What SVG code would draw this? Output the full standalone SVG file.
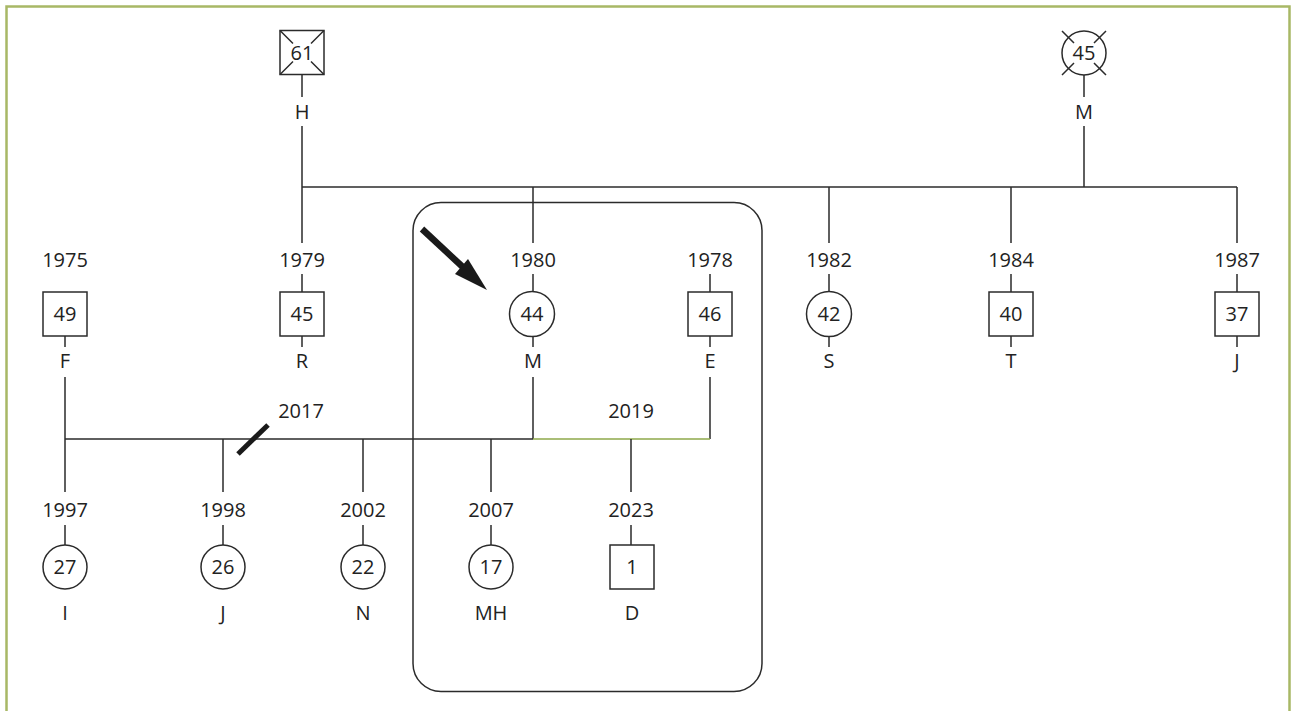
<svg xmlns="http://www.w3.org/2000/svg" width="1292" height="711" viewBox="0 0 1292 711">
<style>
  .ln{stroke:#2b2b2b;stroke-width:1.5;fill:none}
  .nd{stroke:#2b2b2b;stroke-width:1.5;fill:#fff}
  .t{font-family:"Open Sans","Noto Sans",sans-serif;font-size:20px;fill:#222;text-anchor:middle}
</style>
<rect width="1292" height="711" fill="#fff"/>
<path d="M6.5 711 V6.5 H1289.5 V711" fill="none" stroke="#a8b866" stroke-width="2.5"/>

<g id="connectors">
  <path class="ln" d="M302 75 V97 M302 126 V187 M1084 75 V97 M1084 126 V187"/>
  <path class="ln" d="M302 187 H1237"/>
  <path class="ln" d="M302 187 V243 M533 187 V243 M829 187 V243 M1011 187 V243 M1237 187 V243"/>
  <path class="ln" d="M302 274 V292 M533 274 V292 M710 274 V292 M829 274 V292 M1011 274 V292 M1237 274 V292"/>
  <path class="ln" d="M65 336 V347 M302 336 V347 M533 336 V347 M710 336 V347 M829 336 V347 M1011 336 V347 M1237 336 V347"/>
  <path class="ln" d="M65 377 V439 M533 377 V439 M710 377 V439 M65 439 H533"/>
  <path d="M533 439 H710" stroke="#8ea84a" stroke-width="1.5" fill="none"/>
  <path class="ln" d="M65 439 V492 M223 439 V492 M363 439 V492 M491 439 V492 M631 439 V492"/>
  <path class="ln" d="M65 525 V545 M223 525 V545 M363 525 V545 M491 525 V545 M631 525 V545"/>
  <path d="M238 454 L268 425" stroke="#1a1a1a" stroke-width="5" fill="none"/>
  <path d="M422 229 L466 270" stroke="#1a1a1a" stroke-width="6.5" fill="none"/>
  <polygon points="487,290 455,274 468,259" fill="#1a1a1a"/>
</g>

<g id="focus-box"><rect x="413" y="202.5" width="349" height="489" rx="28" ry="28" class="ln"/></g>

<g id="node-H">
  <rect class="nd" x="280" y="30.5" width="44" height="44"/>
  <path class="ln" d="M280 30.5 l13 13 M324 30.5 l-13 13 M280 74.5 l13 -13 M324 74.5 l-13 -13"/>
  <text class="t" x="302" y="60">61</text>
  <text class="t" x="302" y="119">H</text>
</g>
<g id="node-Mgm">
  <circle class="nd" cx="1084" cy="53" r="22"/>
  <path class="ln" d="M1062 31 l12 12 M1106 31 l-12 12 M1062 75 l12 -12 M1106 75 l-12 -12"/>
  <text class="t" x="1084" y="60">45</text>
  <text class="t" x="1084" y="119">M</text>
</g>

<g id="node-F">
  <text class="t" x="65" y="267">1975</text>
  <rect class="nd" x="43" y="292" width="44" height="44"/>
  <text class="t" x="65" y="321">49</text>
  <text class="t" x="65" y="368">F</text>
</g>
<g id="node-R">
  <text class="t" x="302" y="267">1979</text>
  <rect class="nd" x="280" y="292" width="44" height="44"/>
  <text class="t" x="302" y="321">45</text>
  <text class="t" x="302" y="368">R</text>
</g>
<g id="node-M">
  <text class="t" x="533" y="267">1980</text>
  <circle class="nd" cx="532" cy="314" r="22.5"/>
  <text class="t" x="532" y="321">44</text>
  <text class="t" x="533" y="368">M</text>
</g>
<g id="node-E">
  <text class="t" x="710" y="267">1978</text>
  <rect class="nd" x="688" y="292" width="44" height="44"/>
  <text class="t" x="710" y="321">46</text>
  <text class="t" x="710" y="368">E</text>
</g>
<g id="node-S">
  <text class="t" x="829" y="267">1982</text>
  <circle class="nd" cx="829" cy="314" r="22.5"/>
  <text class="t" x="829" y="321">42</text>
  <text class="t" x="829" y="368">S</text>
</g>
<g id="node-T">
  <text class="t" x="1011" y="267">1984</text>
  <rect class="nd" x="989" y="292" width="44" height="44"/>
  <text class="t" x="1011" y="321">40</text>
  <text class="t" x="1011" y="368">T</text>
</g>
<g id="node-J">
  <text class="t" x="1237" y="267">1987</text>
  <rect class="nd" x="1215" y="292" width="44" height="44"/>
  <text class="t" x="1237" y="321">37</text>
  <text class="t" x="1237" y="368">J</text>
</g>

<g id="labels-marriage">
  <text class="t" x="301" y="418">2017</text>
  <text class="t" x="631" y="418">2019</text>
</g>

<g id="node-I">
  <text class="t" x="65" y="517">1997</text>
  <circle class="nd" cx="65" cy="567" r="22"/>
  <text class="t" x="65" y="574">27</text>
  <text class="t" x="65" y="620">I</text>
</g>
<g id="node-Jc">
  <text class="t" x="223" y="517">1998</text>
  <circle class="nd" cx="223" cy="567" r="22"/>
  <text class="t" x="223" y="574">26</text>
  <text class="t" x="223" y="620">J</text>
</g>
<g id="node-N">
  <text class="t" x="363" y="517">2002</text>
  <circle class="nd" cx="363" cy="567" r="22"/>
  <text class="t" x="363" y="574">22</text>
  <text class="t" x="363" y="620">N</text>
</g>
<g id="node-MH">
  <text class="t" x="491" y="517">2007</text>
  <circle class="nd" cx="491" cy="567" r="22"/>
  <text class="t" x="491" y="574">17</text>
  <text class="t" x="491" y="620">MH</text>
</g>
<g id="node-D">
  <text class="t" x="631" y="517">2023</text>
  <rect class="nd" x="610" y="545" width="44" height="44"/>
  <text class="t" x="632" y="574">1</text>
  <text class="t" x="632" y="620">D</text>
</g>
</svg>
